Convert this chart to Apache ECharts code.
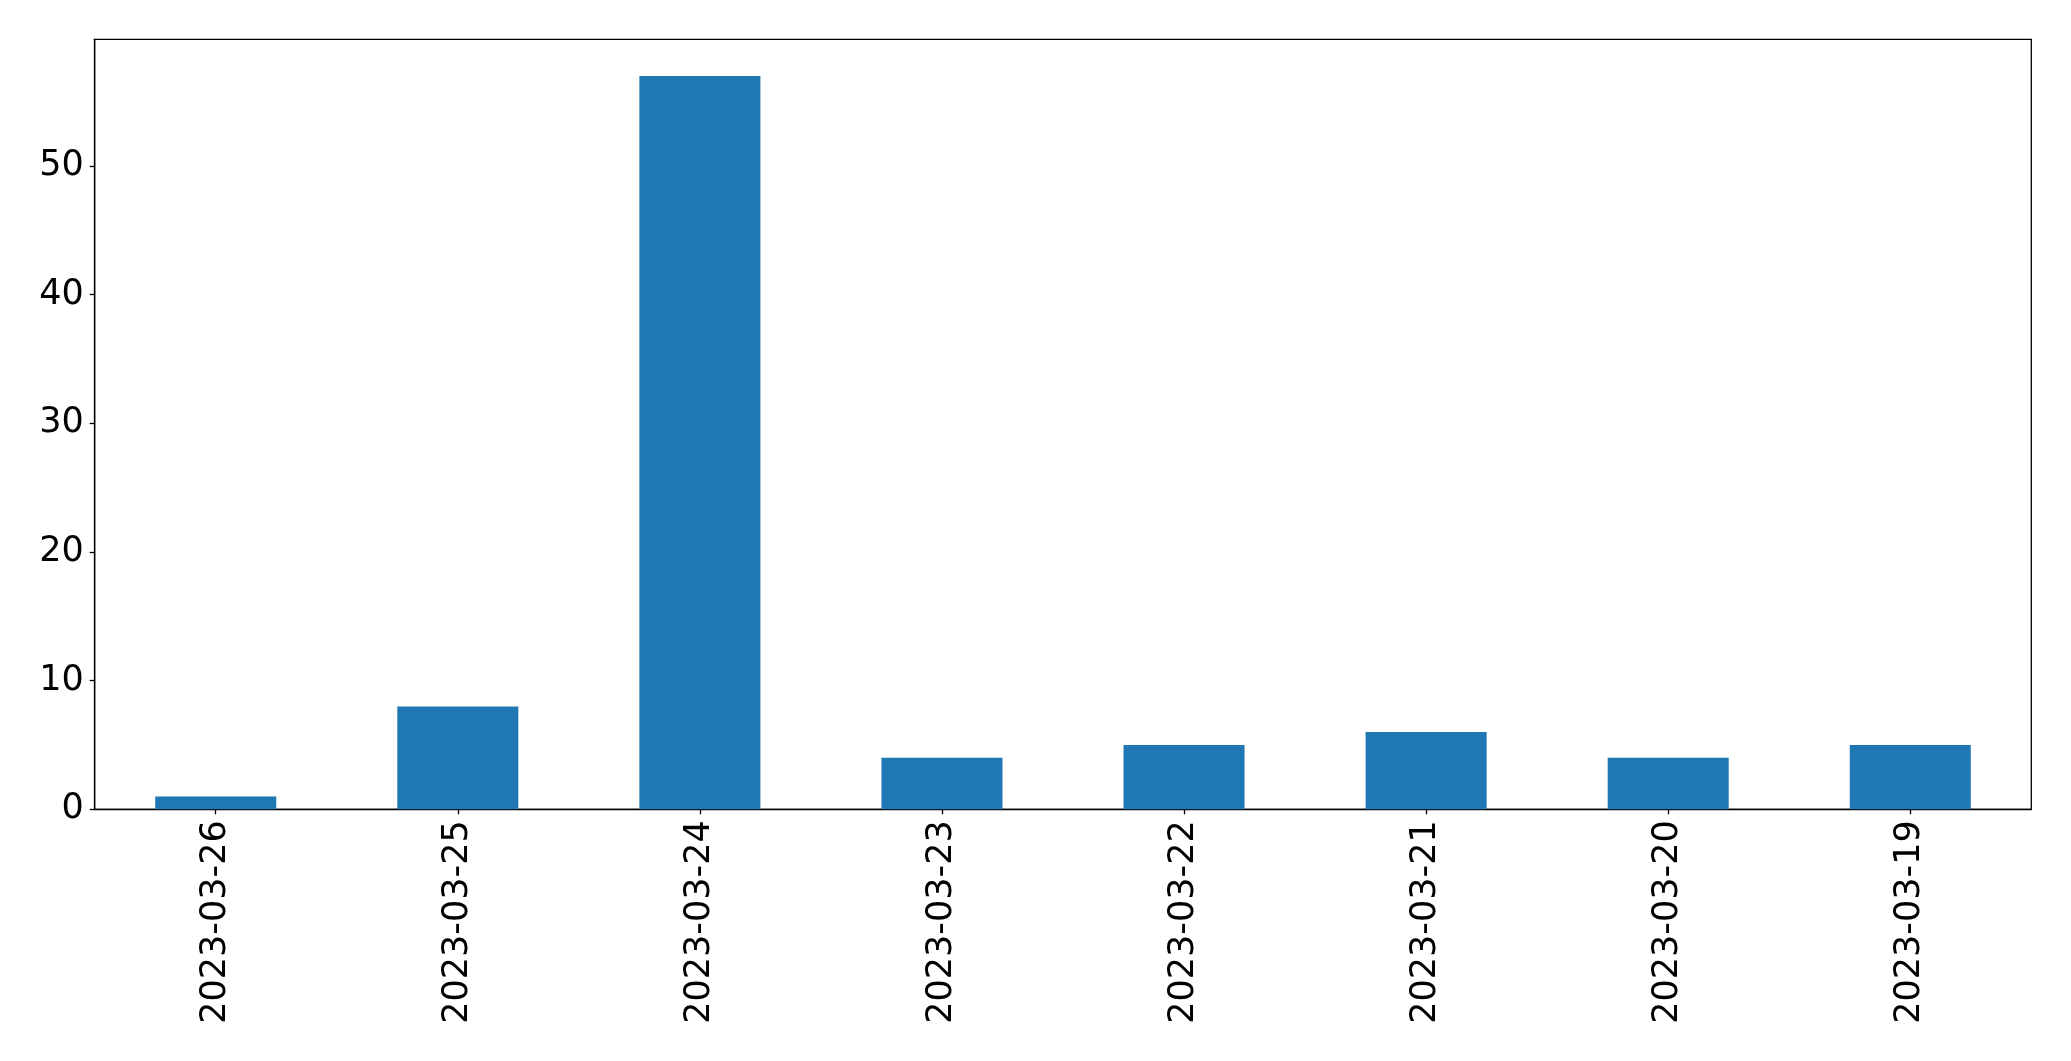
<!DOCTYPE html>
<html>
<head>
<meta charset="utf-8">
<script src="https://cdn.jsdelivr.net/npm/echarts@6/dist/echarts.min.js"></script>
<style>
html,body{margin:0;padding:0;background:#fff;}
#chart{width:2071px;height:1061px;}
</style>
</head>
<body>
<div id="chart"></div>
<script>
const categories = ['2023-03-26','2023-03-25','2023-03-24','2023-03-23','2023-03-22','2023-03-21','2023-03-20','2023-03-19'];
const values = [1, 8, 57, 4, 5, 6, 4, 5];
const yTicks = [0, 10, 20, 30, 40, 50];

const chart = echarts.init(document.getElementById('chart'), null, {renderer: 'canvas'});
const font = 'DejaVu Sans';
chart.setOption({
  animation: false,
  grid: {
    left: 94.7, right: 39.7, top: 39.3, bottom: 251.7,
    show: true, borderColor: '#000', borderWidth: 1.3, backgroundColor: 'transparent'
  },
  xAxis: {
    type: 'category',
    data: categories,
    axisLine: {show: true, lineStyle: {color: '#000', width: 1.3}},
    axisTick: {show: true, alignWithLabel: true, length: 5, lineStyle: {color: '#000', width: 1.3}},
    axisLabel: {rotate: 90, fontFamily: font, fontSize: 35, color: '#000', margin: 11, interval: 0},
    splitLine: {show: false}
  },
  yAxis: {
    type: 'value',
    min: 0,
    max: 59.85,
    interval: 10,
    axisLine: {show: true, lineStyle: {color: '#000', width: 1.3}},
    axisTick: {show: true, length: 5, lineStyle: {color: '#000', width: 1.3}},
    axisLabel: {
      fontFamily: font, fontSize: 35, color: '#000', margin: 11,
      showMaxLabel: false,
      formatter: function (v) { return yTicks.indexOf(v) >= 0 ? String(v) : ''; }
    },
    splitLine: {show: false}
  },
  series: [{
    type: 'bar',
    data: values,
    barWidth: '50%',
    itemStyle: {color: '#1f77b4'}
  }]
});
</script>
</body>
</html>
